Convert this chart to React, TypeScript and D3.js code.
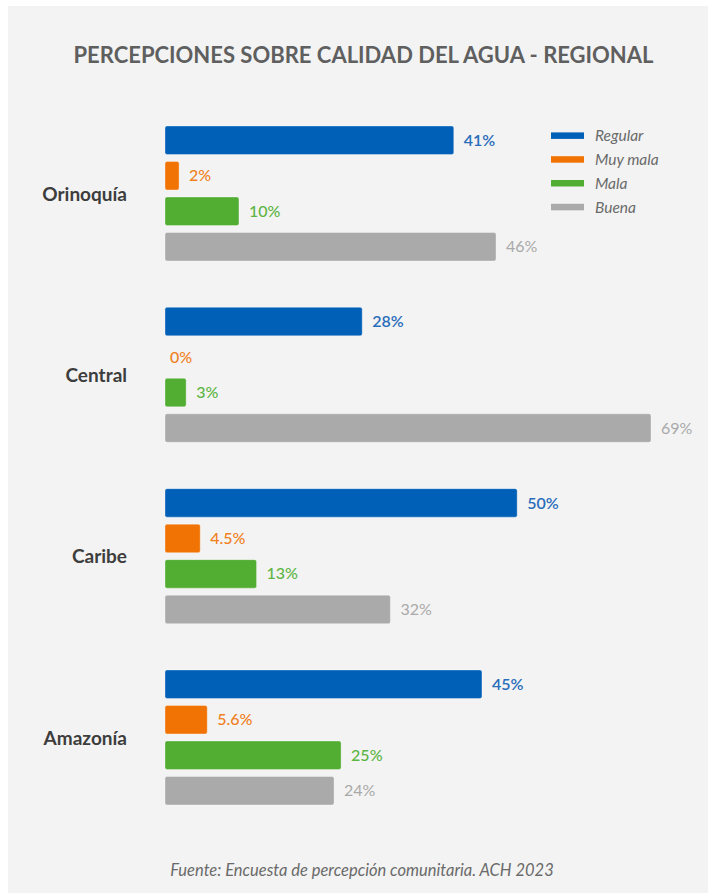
import React from "react";
import * as d3 from "d3";

const categories = ["Orinoquía", "Central", "Caribe", "Amazonía"];
const series = ["Regular", "Muy mala", "Mala", "Buena"];
const regular = [41, 28, 50, 45];
const muyMala = [2, 0, 5, 6];
const mala = [10.5, 3, 13, 25];
const buena = [47, 69, 32, 24];
const regularLabels = ["41%", "28%", "50%", "45%"];
const muyMalaLabels = ["2%", "0%", "4.5%", "5.6%"];
const malaLabels = ["10%", "3%", "13%", "25%"];
const buenaLabels = ["46%", "69%", "32%", "24%"];

const barColors = ["#005fb7", "#f07304", "#52ad33", "#aaaaaa"];
const labelColors = ["#2a6dbb", "#f0801c", "#5cb542", "#a9a9a9"];
const labelWeights = [600, 500, 500, 400];

export default function App() {
  const W = 708, H = 893;
  const values = [regular, muyMala, mala, buena];
  const labels = [regularLabels, muyMalaLabels, malaLabels, buenaLabels];

  const x = d3.scaleLinear().domain([0, 69]).range([165, 651]);
  const yGroup = d3.scaleBand<string>().domain(categories).range([126, 851.3]).paddingInner(0).paddingOuter(0);
  const ySeries = d3.scaleBand<string>().domain(series).range([0, 135]).paddingInner(0.197).paddingOuter(0);
  const font = "Lato, 'Open Sans', sans-serif";

  return (
    <svg width={W} height={H} style={{ position: "absolute", left: 0, top: 0 }} fontFamily={font}>
      <rect x={0} y={0} width={W} height={H} fill="#ffffff" />
      <rect x={8} y={6} width={W - 8} height={H - 6} fill="#f3f3f3" />
      <text x={363.5} y={63} textAnchor="middle" fontSize={22} fontWeight={700} fill="#5f5f5f">
        PERCEPCIONES SOBRE CALIDAD DEL AGUA - REGIONAL
      </text>
      {categories.map((c, ci) => {
        const g0 = yGroup(c)!;
        return (
          <g key={c}>
            <text x={127} y={g0 + 68} dy="0.35em" textAnchor="end" fontSize={19} fontWeight={700} fill="#3d3d3d">
              {c}
            </text>
            {series.map((s, si) => {
              const v = values[si][ci];
              const y0 = g0 + ySeries(s)!;
              const bw = ySeries.bandwidth();
              const w = x(v) - x(0);
              return (
                <g key={s}>
                  {w > 0 && (
                    <rect x={x(0)} y={y0} width={w} height={bw} rx={2} fill={barColors[si]}
                      stroke="#ffffff" strokeOpacity={0.35} strokeWidth={1} />
                  )}
                  <text x={x(v) + (w > 0 ? 10 : 5)} y={y0 + bw / 2} dy="0.35em" fontSize={16}
                    fontWeight={labelWeights[si]} fill={labelColors[si]}>
                    {labels[si][ci]}
                  </text>
                </g>
              );
            })}
          </g>
        );
      })}
      {series.map((s, si) => (
        <g key={s} transform={`translate(551, ${135.7 + si * 23.8})`}>
          <rect x={0} y={-3.3} width={33} height={6.5} fill={barColors[si]} />
          <text x={44} y={0} dy="0.35em" fontSize={15.5} fontStyle="italic" fill="#6a6a6a">{s}</text>
        </g>
      ))}
      <text x={362} y={870} dy="0.35em" textAnchor="middle" fontSize={16.5} fontStyle="italic" fill="#6a6a6a">
        Fuente: Encuesta de percepción comunitaria. ACH 2023
      </text>
    </svg>
  );
}
